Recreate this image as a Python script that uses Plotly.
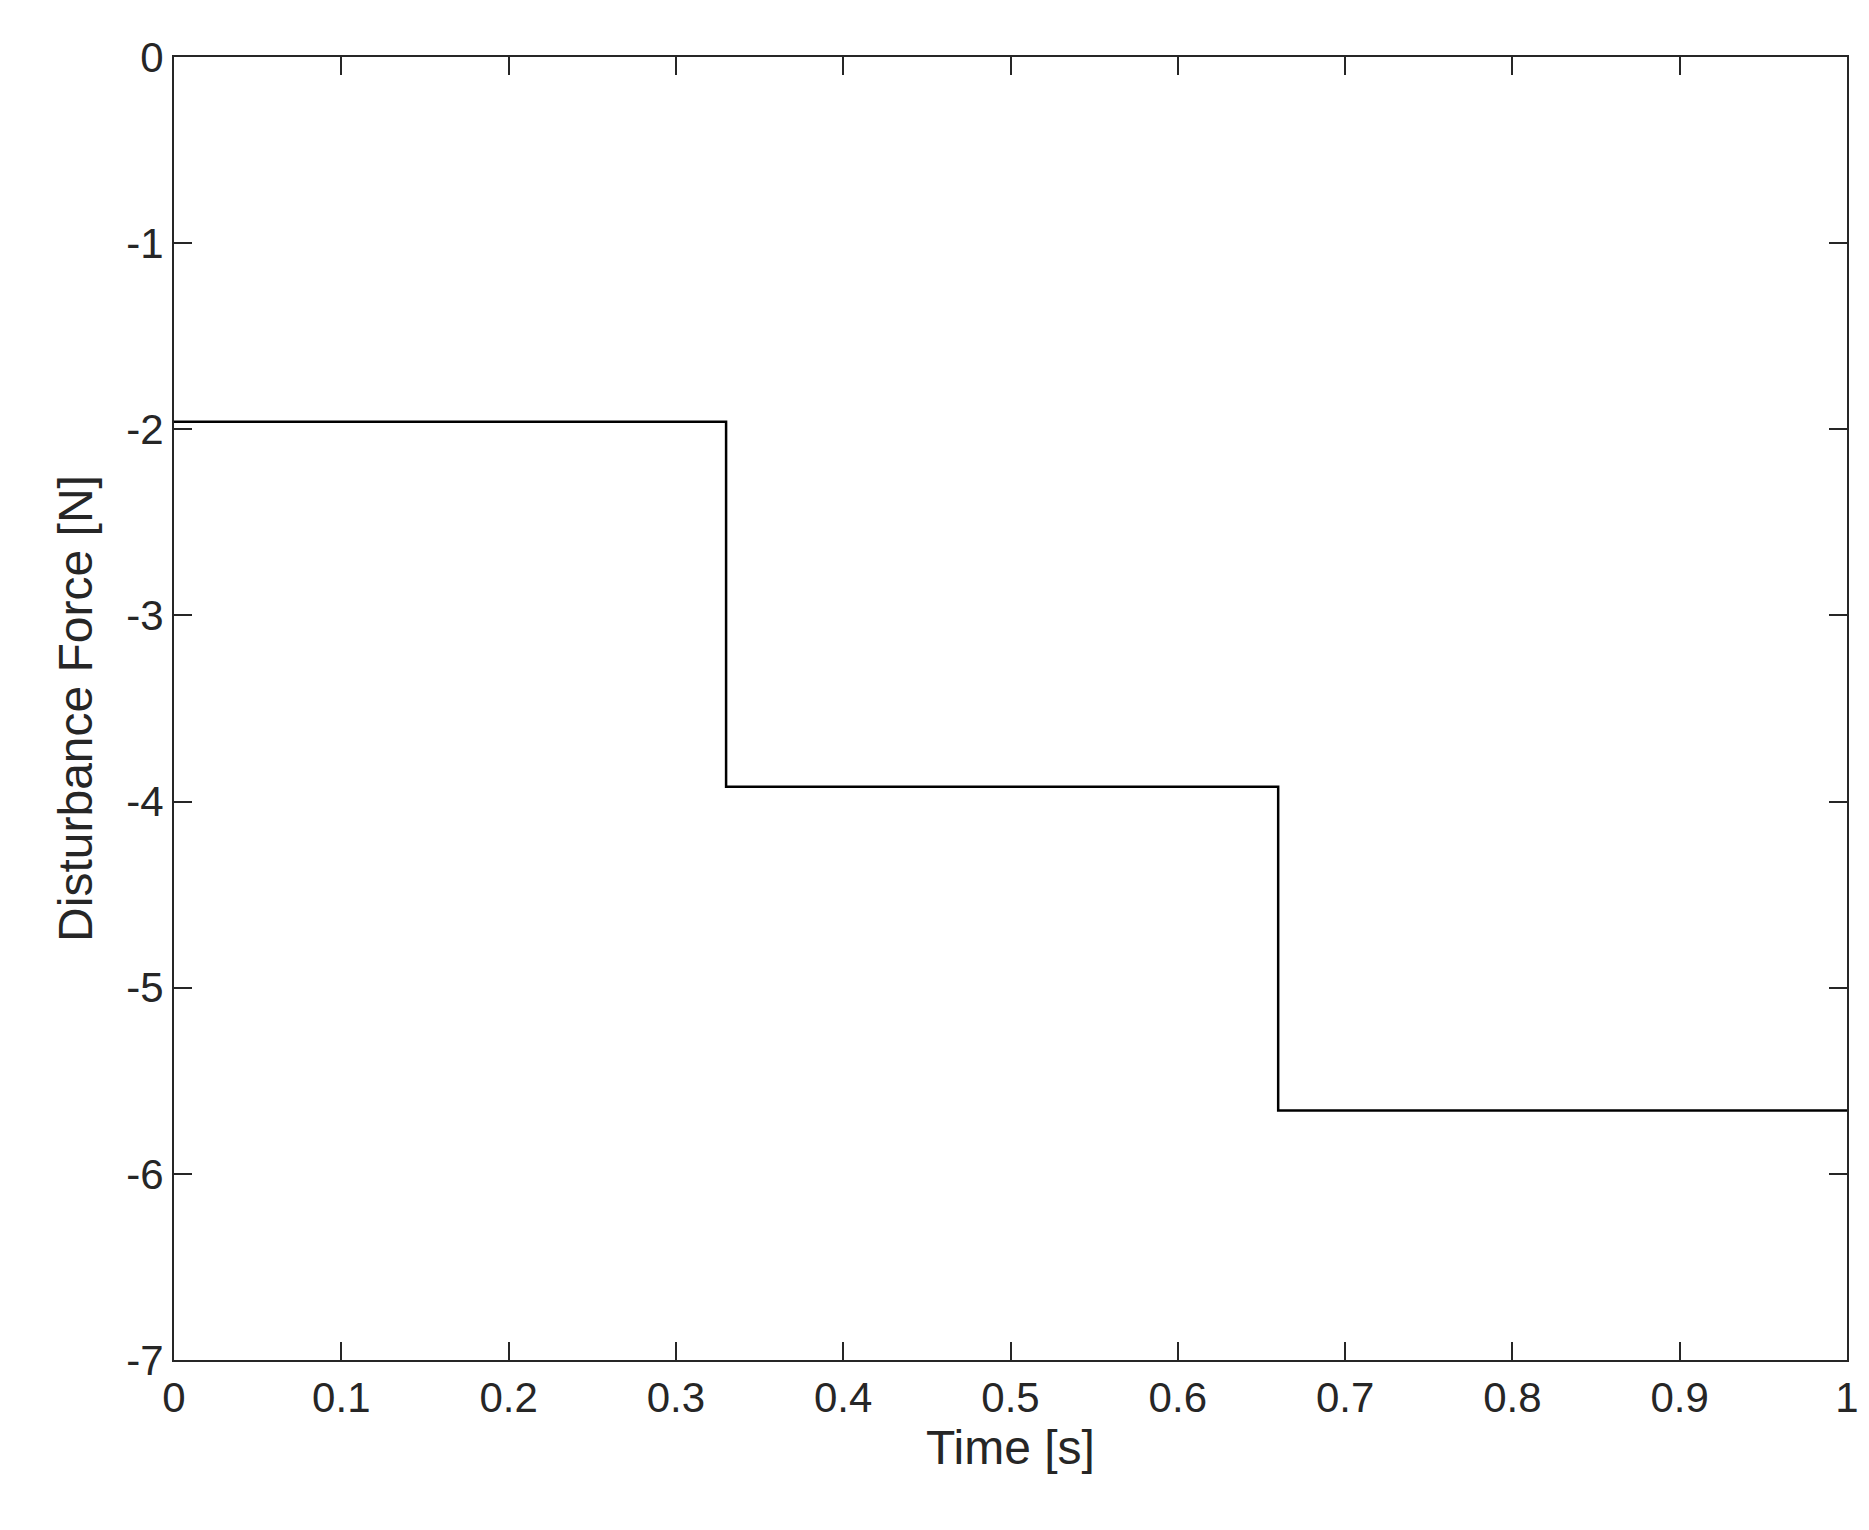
import plotly.graph_objects as go

# step changes of the disturbance force
time_s = [0, 0.33, 0.33, 0.66, 0.66, 1.0]
force_n = [-1.96, -1.96, -3.92, -3.92, -5.66, -5.66]

x_ticks = [0, 0.1, 0.2, 0.3, 0.4, 0.5, 0.6, 0.7, 0.8, 0.9, 1]
x_labels = ["0", "0.1", "0.2", "0.3", "0.4", "0.5", "0.6", "0.7", "0.8", "0.9", "1"]
y_ticks = [0, -1, -2, -3, -4, -5, -6, -7]
y_labels = ["0", "-1", "-2", "-3", "-4", "-5", "-6", "-7"]

fig = go.Figure(go.Scatter(x=time_s, y=force_n, mode="lines",
                           line=dict(color="black", width=2.5)))

axis_style = dict(showline=True, linecolor="#262626", linewidth=2, mirror="ticks",
                  ticks="inside", ticklen=18, tickwidth=2, tickcolor="#262626",
                  showgrid=False, zeroline=False,
                  tickfont=dict(size=42, color="#262626"))

fig.update_xaxes(range=[0, 1], tickvals=x_ticks, ticktext=x_labels,
                 title=dict(text="Time [s]", font=dict(size=48, color="#262626"), standoff=10),
                 **axis_style)
fig.update_yaxes(range=[-7, 0], tickvals=y_ticks, ticktext=y_labels,
                 title=dict(text="Disturbance Force [N]", font=dict(size=48, color="#262626"), standoff=18),
                 **axis_style)

fig.update_layout(width=1869, height=1530, autosize=False,
                  plot_bgcolor="white", paper_bgcolor="white",
                  font=dict(family="Liberation Sans, Arial, sans-serif"),
                  showlegend=False,
                  margin=dict(l=166, r=30, t=49, b=178))

fig.write_html("out.html")
